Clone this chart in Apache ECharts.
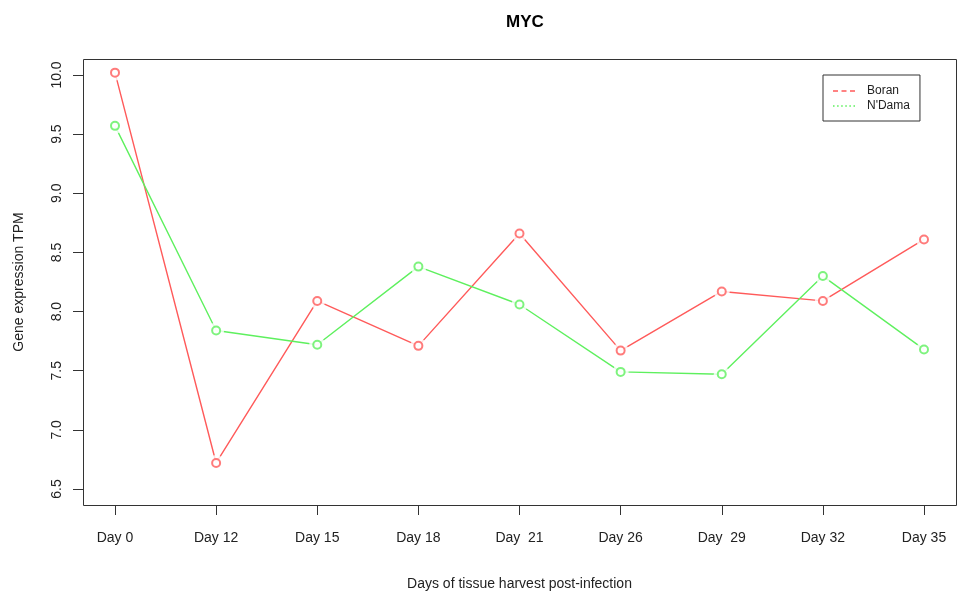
<!DOCTYPE html>
<html>
<head>
<meta charset="utf-8">
<script src="https://cdn.jsdelivr.net/npm/echarts@6/dist/echarts.min.js"></script>
<style>
  html, body { margin: 0; padding: 0; background: #fff; }
  #chart { width: 957px; height: 594px; }
</style>
</head>
<body>
<div id="chart"></div>
<script>
var days = ['Day 0', 'Day 12', 'Day 15', 'Day 18', 'Day  21', 'Day 26', 'Day  29', 'Day 32', 'Day 35']
var boran = [10.02, 6.72, 8.09, 7.71, 8.66, 7.67, 8.17, 8.09, 8.61]
var ndama = [9.57, 7.84, 7.72, 8.38, 8.06, 7.49, 7.47, 8.30, 7.68]
var yMin = 6.5, yMax = 10.0, yStep = 0.5

var red = '#ff5a5a'
var green = '#5ef05e'
var font = 'Liberation Sans, Arial, sans-serif'

// legend keys, like R's lty=2 / lty=3
var dashIcon = 'path://M0,0h5v1.4h-5z M8.5,0h5v1.4h-5z M17,0h5v1.4h-5z'
var dotIcon = 'path://M0,0h1.5v1.4h-1.5z M4,0h1.5v1.4h-1.5z M8,0h1.5v1.4h-1.5z M12,0h1.5v1.4h-1.5z M16,0h1.5v1.4h-1.5z M20,0h1.5v1.4h-1.5z'

function pairs(arr) {
    return arr.map(function (v, i) { return [i, v] })
}

var dom = echarts.init(document.getElementById('chart'))

var lineSeries = function (name, data, color) {
    return {
        name: name,
        type: 'line',
        data: pairs(data),
        symbol: 'none',
        clip: false,
        lineStyle: { color: color, width: 1.4 },
        itemStyle: { color: color },
        z: 2,
        silent: true
    }
}
// white discs so the lines stop short of the points (type = "b")
var maskSeries = function (name, data) {
    return {
        name: name + ' mask',
        type: 'scatter',
        data: pairs(data),
        symbol: 'circle',
        symbolSize: 16,
        clip: false,
        itemStyle: { color: '#fff' },
        z: 3,
        silent: true
    }
}
var pointSeries = function (name, data, color) {
    return {
        name: name + ' pts',
        type: 'scatter',
        data: pairs(data),
        symbol: 'emptyCircle',
        symbolSize: 8,
        clip: false,
        itemStyle: { color: color, borderColor: color, borderWidth: 1.4 },
        z: 4,
        silent: true
    }
}

var yBase = {
    type: 'value',
    min: yMin,
    max: yMax,
    interval: yStep,
    position: 'left',
    offset: 32,
    axisLine: { show: false },
    splitLine: { show: false }
}

dom.setOption({
    animation: false,
    textStyle: { fontFamily: font },
    title: {
        text: 'MYC',
        left: 520,
        textAlign: 'center',
        top: 9,
        textStyle: { fontSize: 17, fontWeight: 'bold', color: '#000', fontFamily: font }
    },
    legend: {
        orient: 'vertical',
        left: 823,
        top: 75,
        padding: [10, 10, 9, 10],
        itemGap: 3,
        itemWidth: 22,
        itemHeight: 14,
        borderColor: '#333',
        borderWidth: 1,
        backgroundColor: '#fff',
        textStyle: { fontSize: 12, color: '#222', fontFamily: font, padding: [0, 0, 0, 7] },
        data: [
            { name: 'Boran', icon: dashIcon },
            { name: "N'Dama", icon: dotIcon }
        ]
    },
    graphic: [{
        type: 'rect',
        shape: { x: 83.5, y: 59.5, width: 873, height: 446 },
        style: { fill: null, stroke: '#333', lineWidth: 1 },
        silent: true,
        z: 10
    }],
    grid: {
        left: 115,
        top: 75,
        right: 33,
        bottom: 105,
        outerBoundsMode: 'none',
        containLabel: false
    },
    xAxis: {
        type: 'value',
        min: 0,
        max: days.length - 1,
        interval: 1,
        offset: 16,
        name: 'Days of tissue harvest post-infection',
        nameLocation: 'middle',
        nameGap: 72,
        nameTextStyle: { fontSize: 14, color: '#222', fontFamily: font },
        axisLine: { show: false },
        splitLine: { show: false },
        axisTick: { show: true, length: 10, lineStyle: { color: '#333' } },
        axisLabel: {
            margin: 26,
            fontSize: 14,
            color: '#222',
            fontFamily: font,
            showMinLabel: true,
            showMaxLabel: true,
            formatter: function (v) { return days[Math.round(v)] }
        }
    },
    yAxis: [
        Object.assign({}, yBase, {
            name: 'Gene expression TPM',
            nameLocation: 'middle',
            nameGap: 57,
            nameRotate: 90,
            nameTextStyle: { fontSize: 14, color: '#222', fontFamily: font },
            axisTick: { show: false },
            axisLabel: {
                rotate: 90,
                margin: 19,
                fontSize: 14,
                color: '#222',
                fontFamily: font,
                showMinLabel: true,
                showMaxLabel: true,
                formatter: function (v) { return v.toFixed(1) }
            }
        }),
        // tick marks only
        Object.assign({}, yBase, {
            axisTick: { show: true, length: 10, lineStyle: { color: '#333' } },
            axisLabel: { show: false }
        })
    ],
    series: [
        lineSeries('Boran', boran, red),
        lineSeries("N'Dama", ndama, green),
        maskSeries('Boran', boran),
        maskSeries("N'Dama", ndama),
        pointSeries('Boran', boran, red),
        pointSeries("N'Dama", ndama, green)
    ]
})
</script>
</body>
</html>
